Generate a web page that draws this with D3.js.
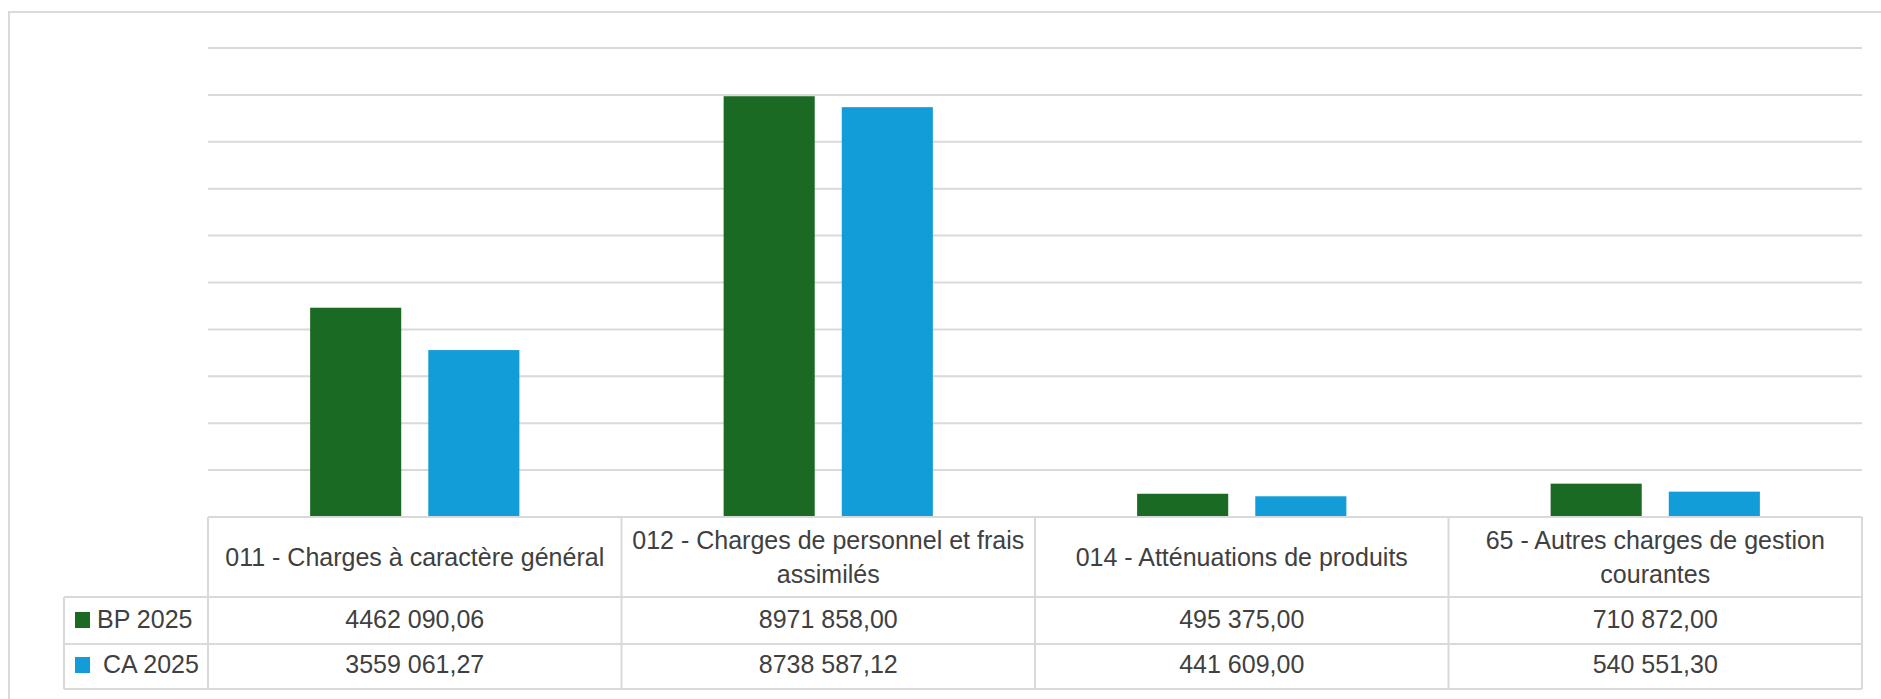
<!DOCTYPE html>
<html>
<head>
<meta charset="utf-8">
<script src="https://cdn.jsdelivr.net/npm/d3@7"></script>
<style>
  body { margin: 0; background: #fff; }
  svg { display: block; font-family: "Liberation Sans", Arial, sans-serif; }
</style>
</head>
<body>
<svg width="1881" height="699"></svg>
<script>
var categories = [
    "011 - Charges à caractère général",
    "012 - Charges de personnel et frais assimilés",
    "014 - Atténuations de produits",
    "65 - Autres charges de gestion courantes"
];
var seriesNames = ["BP 2025", "CA 2025"];
var bp2025 = [4462090.06, 8971858.00, 495375.00, 710872.00];
var ca2025 = [3559061.27, 8738587.12, 441609.00, 540551.30];
var yTicks = [0, 1000000, 2000000, 3000000, 4000000, 5000000, 6000000, 7000000, 8000000, 9000000, 10000000];

var colors = ["#1b6a23", "#139dd8"];
var grid = "#d9d9d9", textCol = "#404040";

var svg = d3.select("svg");
var width = 1881, height = 699;

// cadre extérieur
svg.append("rect")
    .attr("x", 9).attr("y", 12)
    .attr("width", width).attr("height", height)
    .attr("fill", "none").attr("stroke", grid).attr("stroke-width", 2);

var x0 = d3.scaleBand().domain(categories).range([208, 1862]).paddingInner(0).paddingOuter(0);
var x1 = d3.scaleBand().domain(seriesNames)
    .range([x0.bandwidth() * 0.247, x0.bandwidth() * 0.753])
    .paddingInner(0.229).paddingOuter(0);
var y = d3.scaleLinear().domain([0, 10000000]).range([517, 48]);

// lignes de quadrillage
svg.append("g").selectAll("line")
    .data(yTicks.slice(1))
    .enter().append("line")
    .attr("x1", 208).attr("x2", 1862)
    .attr("y1", function (d) { return y(d); })
    .attr("y2", function (d) { return y(d); })
    .attr("stroke", grid).attr("stroke-width", 2);

var series = [bp2025, ca2025];
var groups = svg.append("g").selectAll("g")
    .data(categories)
    .enter().append("g")
    .attr("transform", function (d) { return "translate(" + x0(d) + ",0)"; });

groups.selectAll("rect")
    .data(function (d, i) {
        return seriesNames.map(function (s, j) { return { key: s, value: series[j][i], idx: j }; });
    })
    .enter().append("rect")
    .attr("x", function (d) { return x1(d.key); })
    .attr("width", x1.bandwidth())
    .attr("y", function (d) { return y(d.value); })
    .attr("height", function (d) { return y(0) - y(d.value); })
    .attr("fill", function (d) { return colors[d.idx]; });

// tableau de données
var fr = d3.formatLocale({ decimal: ",", thousands: " ", grouping: [3, 4], currency: ["", " €"] });
var fmt = fr.format(",.2f");

var headTop = 517, rowTops = [597, 644], bottom = 689, legLeft = 64;
var t = svg.append("g");

function line(xa, ya, xb, yb) {
    t.append("line").attr("x1", xa).attr("y1", ya).attr("x2", xb).attr("y2", yb)
        .attr("stroke", grid).attr("stroke-width", 2);
}
line(208, headTop, 1862, headTop);
rowTops.forEach(function (r) { line(legLeft, r, 1862, r); });
line(legLeft, bottom, 1862, bottom);
line(legLeft, rowTops[0], legLeft, bottom);
categories.forEach(function (c) { line(x0(c), headTop, x0(c), bottom); });
line(1862, headTop, 1862, bottom);

// en-têtes (retour à la ligne si trop long)
var fontSize = 25;
categories.forEach(function (c) {
    var cx = x0(c) + x0.bandwidth() / 2;
    var words = c.split(" "), lines = [], cur = "";
    var probe = t.append("text").attr("font-size", fontSize);
    words.forEach(function (w) {
        var test = cur ? cur + " " + w : w;
        probe.text(test);
        if (probe.node().getComputedTextLength() > 400 && cur) {
            lines.push(cur); cur = w;
        } else cur = test;
    });
    lines.push(cur);
    probe.remove();
    var base = lines.length === 1 ? [566] : [549, 583];
    lines.forEach(function (l, k) {
        t.append("text").attr("x", cx).attr("y", base[k])
            .attr("text-anchor", "middle").attr("font-size", fontSize)
            .attr("fill", textCol).text(l);
    });
});

var baselines = [628, 673];
var legTextX = [97, 103];
seriesNames.forEach(function (s, j) {
    t.append("rect").attr("x", 75).attr("y", baselines[j] - 16)
        .attr("width", 15).attr("height", 16).attr("fill", colors[j]);
    t.append("text").attr("x", legTextX[j]).attr("y", baselines[j])
        .attr("font-size", fontSize).attr("fill", textCol).text(s);
    categories.forEach(function (c, i) {
        t.append("text").attr("x", x0(c) + x0.bandwidth() / 2).attr("y", baselines[j])
            .attr("text-anchor", "middle").attr("font-size", fontSize)
            .attr("fill", textCol).text(fmt(series[j][i]));
    });
});
</script>
</body>
</html>
